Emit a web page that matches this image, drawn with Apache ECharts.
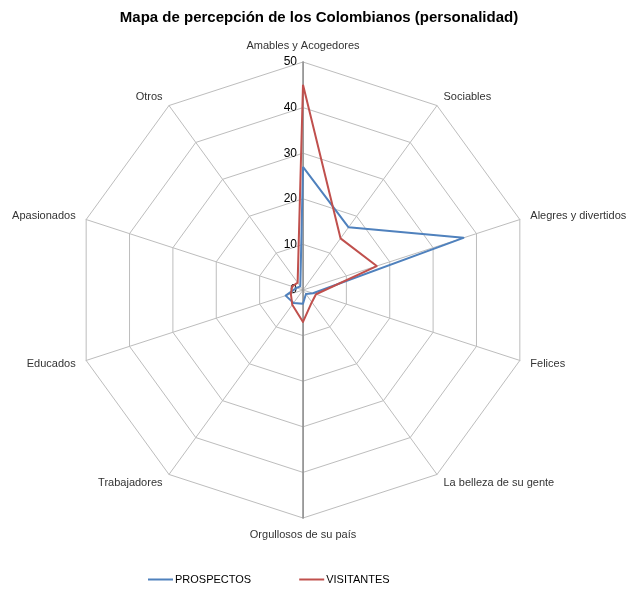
<!DOCTYPE html>
<html>
<head>
<meta charset="utf-8">
<script src="https://cdn.jsdelivr.net/npm/echarts@6/dist/echarts.min.js"></script>
<style>
html,body{margin:0;padding:0;background:#fff;}
#chart{width:638px;height:590px;}
</style>
</head>
<body>
<div id="chart"></div>
<script>
// Categories in clockwise order starting at the top
const categories = ['Amables y Acogedores','Sociables','Alegres y divertidos','Felices','La belleza de su gente','Orgullosos de su país','Trabajadores','Educados','Apasionados','Otros'];
const prospectos = [27, 17, 37, 2.3, 1.1, 3, 3.5, 4, 1.5, 1];
const visitantes = [45, 14, 17, 3, 3.3, 7, 4, 2.8, 2.5, 2];
const tickValues = [0, 10, 20, 30, 40, 50];
const seriesNames = ['PROSPECTOS', 'VISITANTES'];

// ECharts radar lays indicators counter-clockwise; reorder so they appear clockwise
const order = [0].concat(categories.slice(1).map((_, i) => categories.length - 1 - i));
const reorder = arr => order.map(i => arr[i]);

const FONT = 'Liberation Sans';
const chart = echarts.init(document.getElementById('chart'));
chart.setOption({
  animation: false,
  backgroundColor: '#fff',
  title: {
    text: 'Mapa de percepción de los Colombianos (personalidad)',
    left: 'center', top: 5,
    textStyle: {fontFamily: FONT, fontSize: 15, fontWeight: 'bold', color: '#000'}
  },
  legend: {
    left: 143, top: 569,
    itemWidth: 25, itemHeight: 2, itemGap: 48,
    icon: 'rect',
    textStyle: {fontFamily: FONT, fontSize: 11, color: '#000', padding: [0,0,0,-3]},
    data: seriesNames
  },
  radar: {
    center: [303, 290],
    radius: 228,
    startAngle: 90,
    splitNumber: 5,
    shape: 'polygon',
    indicator: reorder(categories).map(n => ({name: n, min: 0, max: 50})),
    axisName: {fontFamily: FONT, fontSize: 11, color: '#333'},
    nameGap: 11,
    axisLine: {lineStyle: {color: '#bdbdbd', width: 1}},
    splitLine: {lineStyle: {color: '#bdbdbd', width: 1}},
    splitArea: {show: false},
    axisLabel: {show: false}
  },
  grid: {left: 303, top: 62, width: 1, height: 456, containLabel: false},
  xAxis: {type: 'value', show: false, min: 0, max: 1},
  yAxis: {
    type: 'value', min: -50, max: 50, interval: 10,
    axisLine: {show: true, lineStyle: {color: '#8c8c8c', width: 1.5}},
    axisTick: {show: false},
    splitLine: {show: false},
    axisLabel: {
      fontFamily: FONT, fontSize: 12, color: '#000', margin: 6,
      formatter: v => (tickValues.indexOf(v) >= 0 ? String(v) : '')
    }
  },
  series: [{
    type: 'radar',
    symbol: 'none',
    data: [
      {name: seriesNames[0], value: reorder(prospectos), lineStyle: {color: '#4F81BD', width: 2}, itemStyle: {color: '#4F81BD'}},
      {name: seriesNames[1], value: reorder(visitantes), lineStyle: {color: '#C0504D', width: 2}, itemStyle: {color: '#C0504D'}}
    ]
  }]
});
</script>
</body>
</html>
